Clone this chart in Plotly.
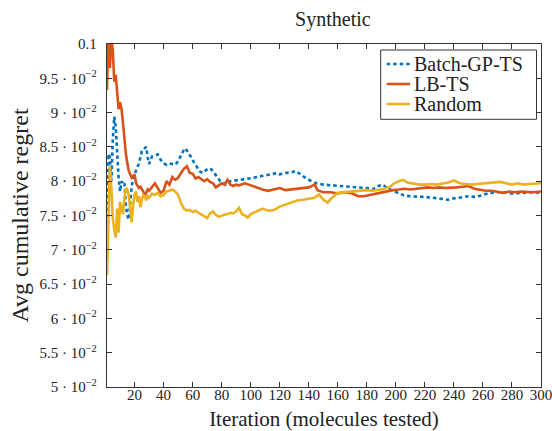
import plotly.graph_objects as go

# ---------------- data ----------------
lbts_x = list(range(1, 31)) + [32, 34, 36, 38, 40, 42, 44, 46, 48, 50, 52, 54, 56, 58, 60, 62, 64, 66, 68, 70,
                                72, 74, 76, 78, 80, 82, 84, 86, 88, 90, 92, 96, 100, 104, 108, 112, 116, 120,
                                124, 128, 132, 136, 140, 144, 146, 150, 155, 160, 165, 170, 174, 178, 182, 186,
                                190, 194, 198, 202, 206, 210, 214, 218, 222, 226, 230, 234, 238, 242, 246, 250,
                                254, 258, 262, 266, 270, 274, 278, 282, 286, 290, 294, 300]
lbts_y = [0.0933, 0.1015, 0.0965, 0.1010, 0.0990, 0.0945, 0.0955, 0.0930, 0.0905, 0.0915,
          0.0905, 0.0885, 0.0860, 0.0840, 0.0826, 0.0815, 0.0810, 0.0805, 0.0807, 0.0810,
          0.0797, 0.0793, 0.0790, 0.0792, 0.0788, 0.0785, 0.0778, 0.0783, 0.0788, 0.0786,
          0.0792, 0.0797, 0.0790, 0.0783, 0.0786, 0.0800, 0.0795, 0.0806, 0.0802, 0.0805,
          0.0812, 0.0818, 0.0822, 0.0812, 0.0811, 0.0804, 0.0806, 0.0803, 0.0800, 0.0803,
          0.0799, 0.0797, 0.0791, 0.0794, 0.0797, 0.0795, 0.0802, 0.0795, 0.0793, 0.0795,
          0.0794, 0.0797, 0.0794, 0.0790, 0.0788, 0.0786, 0.0788, 0.0790, 0.0787, 0.0788,
          0.0788, 0.0789, 0.0791, 0.0795, 0.0787, 0.0784, 0.0784, 0.0782, 0.0784, 0.0782,
          0.0778, 0.0778, 0.0780, 0.0782, 0.0784, 0.0785, 0.0787, 0.0788, 0.0789, 0.0788,
          0.0789, 0.0790, 0.0791, 0.0790, 0.0791, 0.0790, 0.0790, 0.0791, 0.0792, 0.0793,
          0.0789, 0.0787, 0.0786, 0.0786, 0.0784, 0.0783, 0.0785, 0.0784, 0.0785, 0.0784,
          0.0784, 0.0785]

random_x = list(range(1, 31)) + [32, 34, 36, 38, 40, 42, 44, 46, 48, 50, 52, 54, 56, 58, 60, 62, 64, 66, 68,
                                  70, 72, 74, 76, 78, 80, 82, 84, 86, 88, 90, 92, 94, 96, 98, 100, 104, 108,
                                  112, 116, 120, 124, 128, 132, 136, 140, 144, 147, 150, 153, 156, 160, 164,
                                  168, 172, 176, 180, 184, 188, 192, 196, 199, 202, 205, 208, 212, 216, 220,
                                  224, 228, 232, 236, 240, 244, 248, 252, 256, 260, 264, 268, 272, 276, 280,
                                  284, 288, 292, 296, 300]
random_y = [0.0663, 0.0745, 0.0822, 0.0790, 0.0745, 0.0730, 0.0718, 0.0760, 0.0725, 0.0770,
            0.0760, 0.0752, 0.0775, 0.0790, 0.0788, 0.0780, 0.0760, 0.0740, 0.0765, 0.0780,
            0.0785, 0.0770, 0.0778, 0.0762, 0.0773, 0.0780, 0.0778, 0.0772, 0.0778, 0.0776,
            0.0782, 0.0780, 0.0783, 0.0778, 0.0780, 0.0785, 0.0786, 0.0788, 0.0785, 0.0780,
            0.0768, 0.0760, 0.0757, 0.0758, 0.0755, 0.0757, 0.0754, 0.0752, 0.0749, 0.0746,
            0.0753, 0.0756, 0.0751, 0.0748, 0.0750, 0.0751, 0.0752, 0.0754, 0.0753, 0.0756,
            0.0761, 0.0752, 0.0750, 0.0747, 0.0752, 0.0756, 0.0760, 0.0757, 0.0758, 0.0763,
            0.0766, 0.0770, 0.0772, 0.0773, 0.0774, 0.0776, 0.0781, 0.0773, 0.0769, 0.0776,
            0.0783, 0.0784, 0.0784, 0.0785, 0.0787, 0.0787, 0.0786, 0.0787, 0.0789, 0.0792,
            0.0797, 0.0800, 0.0802, 0.0798, 0.0796, 0.0795, 0.0795, 0.0796, 0.0795, 0.0796,
            0.0798, 0.0801, 0.0797, 0.0796, 0.0795, 0.0796, 0.0797, 0.0798, 0.0799, 0.0799,
            0.0797, 0.0795, 0.0797, 0.0795, 0.0796, 0.0797, 0.0797]

batch_x = list(range(1, 31)) + [32, 34, 36, 38, 40, 42, 44, 46, 48, 50, 52, 54, 55, 57, 59, 61, 63, 65, 67,
                                 69, 71, 73, 75, 77, 79, 81, 83, 86, 90, 94, 98, 102, 106, 110, 114, 118, 120,
                                 124, 128, 131, 134, 137, 141, 145, 150, 155, 160, 165, 170, 175, 180, 184,
                                 188, 191, 194, 198, 202, 206, 210, 215, 220, 225, 230, 236, 240, 245, 250,
                                 255, 260, 265, 270, 275, 280, 285, 290, 295, 300]
batch_y = [0.0690, 0.0840, 0.0835, 0.0800, 0.0860, 0.0894, 0.0880, 0.0840, 0.0805, 0.0785,
           0.0800, 0.0795, 0.0797, 0.0765, 0.0750, 0.0744, 0.0775, 0.0792, 0.0805, 0.0810,
           0.0815, 0.0820, 0.0826, 0.0835, 0.0844, 0.0846, 0.0848, 0.0850, 0.0835, 0.0825,
           0.0836, 0.0838, 0.0839, 0.0831, 0.0826, 0.0824, 0.0826, 0.0825, 0.0824, 0.0829,
           0.0838, 0.0846, 0.0848, 0.0842, 0.0835, 0.0827, 0.0820, 0.0814, 0.0812, 0.0816,
           0.0819, 0.0817, 0.0812, 0.0806, 0.0800, 0.0797, 0.0795, 0.0800, 0.0801, 0.0802,
           0.0803, 0.0805, 0.0807, 0.0808, 0.0810, 0.0812, 0.0810, 0.0812, 0.0813, 0.0815,
           0.0810, 0.0806, 0.0801, 0.0797, 0.0795, 0.0794, 0.0793, 0.0792, 0.0791, 0.0791,
           0.0790, 0.0788, 0.0793, 0.0795, 0.0790, 0.0786, 0.0782, 0.0779, 0.0778, 0.0778,
           0.0777, 0.0776, 0.0775, 0.0773, 0.0775, 0.0776, 0.0778, 0.0777, 0.0780, 0.0783,
           0.0784, 0.0784, 0.0782, 0.0783, 0.0784, 0.0784, 0.0783]

series_names = ["Batch-GP-TS", "LB-TS", "Random"]

y_tick_vals = [0.05, 0.055, 0.06, 0.065, 0.07, 0.075, 0.08, 0.085, 0.09, 0.095, 0.1]
y_tick_text = ["5 · 10<sup>−2</sup>", "5.5 · 10<sup>−2</sup>", "6 · 10<sup>−2</sup>",
               "6.5 · 10<sup>−2</sup>", "7 · 10<sup>−2</sup>", "7.5 · 10<sup>−2</sup>",
               "8 · 10<sup>−2</sup>", "8.5 · 10<sup>−2</sup>", "9 · 10<sup>−2</sup>",
               "9.5 · 10<sup>−2</sup>", "0.1"]
x_tick_vals = [20, 40, 60, 80, 100, 120, 140, 160, 180, 200, 220, 240, 260, 280, 300]

BLUE = "#0072BD"
RED = "#D95319"
YELLOW = "#EDB120"
FONT = "Liberation Serif, Times New Roman, serif"
TXT = "#222222"
colors = [BLUE, RED, YELLOW]
dashes = ["3.5px,3px", "solid", "solid"]

fig = go.Figure()
for name, xs, ys, c, d in zip(series_names, [batch_x, lbts_x, random_x],
                              [batch_y, lbts_y, random_y], colors, dashes):
    fig.add_trace(go.Scatter(x=xs, y=ys, mode="lines", name=name, showlegend=False,
                             line=dict(color=c, width=2.6, dash=d)))

# legend box (drawn in paper coordinates, pgfplots style)
fig.add_shape(type="rect", xref="paper", yref="paper", x0=0.6306, x1=0.9896, y0=0.7805, y1=0.9825,
              line=dict(color="#333333", width=1), fillcolor="white", layer="above")
row_y = [0.9417, 0.8834, 0.8251]
for name, c, d, ry in zip(series_names, colors, dashes, row_y):
    fig.add_shape(type="line", xref="paper", yref="paper", x0=0.6445, x1=0.6982, y0=ry, y1=ry,
                  line=dict(color=c, width=2.6, dash=d), layer="above")
    fig.add_annotation(text=name, xref="paper", yref="paper", x=0.7062, y=ry,
                       xanchor="left", yanchor="middle", showarrow=False, height=19,
                       borderpad=0, font=dict(family=FONT, size=20, color=TXT))

axis_common = dict(showgrid=False, zeroline=False, showline=True, linecolor="#333333",
                   linewidth=1.3, mirror="allticks", ticks="inside", ticklen=5,
                   tickcolor="#333333", tickwidth=1, automargin=False,
                   ticklabeloverflow="allow")

fig.update_layout(
    width=552, height=431,
    margin=dict(l=107, r=11, t=44, b=44),
    paper_bgcolor="white", plot_bgcolor="white",
    font=dict(family=FONT, color=TXT, size=15),
    title=dict(text="Synthetic", x=0.603, xanchor="center", y=0.956, yanchor="middle",
               font=dict(family=FONT, size=20, color=TXT)),
    xaxis=dict(range=[1, 300], tickvals=x_tick_vals,
               tickfont=dict(family=FONT, size=15, color=TXT),
               ticklabelstandoff=-6,
               title=dict(text="Iteration (molecules tested)",
                          font=dict(family=FONT, size=21, color=TXT), standoff=10),
               **axis_common),
    yaxis=dict(range=[0.05, 0.1], tickvals=y_tick_vals, ticktext=y_tick_text,
               tickfont=dict(family=FONT, size=15, color=TXT),
               ticklabelstandoff=6,
               title=dict(text="Avg cumulative regret",
                          font=dict(family=FONT, size=24, color=TXT), standoff=4),
               **axis_common),
    showlegend=False,
)

fig.write_html("out.html", config={"displayModeBar": False},
               post_script="document.body.style.margin='0px';document.body.style.padding='0px';")
